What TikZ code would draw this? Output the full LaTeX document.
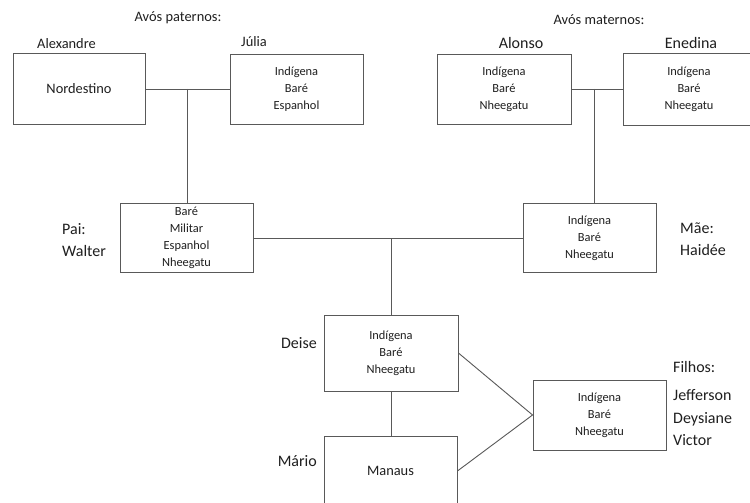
\documentclass[tikz,border=0pt]{standalone}
\usepackage{fontspec}
\setmainfont{Carlito}
\begin{document}
\begin{tikzpicture}[x=1pt,y=-1pt,
  box/.style={draw=black!65,line width=0.9pt,minimum width=133pt,minimum height=70pt,inner sep=0pt,align=center,font=\fontsize{12.4}{17.2}\selectfont,text=black!88},
  lab/.style={inner sep=0pt,anchor=west,font=\fontsize{14.4}{17}\selectfont,text=black!88},
  big/.style={inner sep=0pt,anchor=west,align=left,font=\fontsize{16}{22.5}\selectfont,text=black!88},
  conn/.style={draw=black!65,line width=0.9pt}]
\clip (0,0) rectangle (750,503);
\fill[white] (0,0) rectangle (750,503);
% grandparents paternal
\node[lab,anchor=center] (avp) at (178,18) {Avós paternos:};
\node[lab] (alexl) at (37,44) {Alexandre};
\node[lab] (julial) at (241,42) {Júlia};
\node[box,minimum width=132pt,minimum height=71pt] (alex) at (79,89) {\fontsize{14.4}{17}\selectfont Nordestino};
\node[box] (julia) at (296.5,89) {Indígena\\Baré\\Espanhol};
% grandparents maternal
\node[lab,anchor=center] (avm) at (599,20) {Avós maternos:};
\node[big,anchor=center] (alonsol) at (521,43) {Alonso};
\node[big,anchor=center] (enedl) at (691,43) {Enedina};
\node[box,minimum width=134pt] (alonso) at (504,89) {Indígena\\Baré\\Nheegatu};
\node[box,minimum width=132pt,minimum height=72pt] (ened) at (689,89) {Indígena\\Baré\\Nheegatu};
% parents
\node[box,minimum height=69pt] (pai) at (186.5,238) {Baré\\Militar\\Espanhol\\Nheegatu};
\node[big] (pail) at (62,240) {Pai:\\Walter};
\node[box,minimum height=69pt] (mae) at (589.5,238) {Indígena\\Baré\\Nheegatu};
\node[big] (mael) at (680,239) {Mãe:\\Haidée};
% Deise and Mario
\node[box,minimum width=134pt,minimum height=76pt] (deise) at (391,353) {Indígena\\Baré\\Nheegatu};
\node[big,anchor=east] (deisel) at (317,343) {Deise};
\node[box,minimum width=133pt,minimum height=70pt] (mario) at (390.5,471) {\fontsize{14.4}{17}\selectfont Manaus};
\node[big,anchor=east] (mariol) at (317,461) {Mário};
% children
\node[box,minimum height=70pt] (filhos) at (599.5,415) {Indígena\\Baré\\Nheegatu};
\node[big] (filhosl) at (673,367) {Filhos:};
\node[big] (kids) at (673,418) {Jefferson\\Deysiane\\Victor};
% connectors
\coordinate (jp) at (187,89);
\coordinate (jm) at (594,89);
\coordinate (jc) at (391,238);
\draw[conn] (alex.east) -- (julia.west);
\draw[conn] (jp) -- (jp |- pai.north);
\draw[conn] (alonso.east) -- (ened.west);
\draw[conn] (jm) -- (jm |- mae.north);
\draw[conn] (pai.east) -- (mae.west);
\draw[conn] (jc) -- (jc |- deise.north);
\draw[conn] (deise.south) -- (deise.south |- mario.north);
\draw[conn] (deise.east) -- (filhos.west);
\draw[conn] (mario.east) -- (filhos.west);
\end{tikzpicture}
\end{document}
